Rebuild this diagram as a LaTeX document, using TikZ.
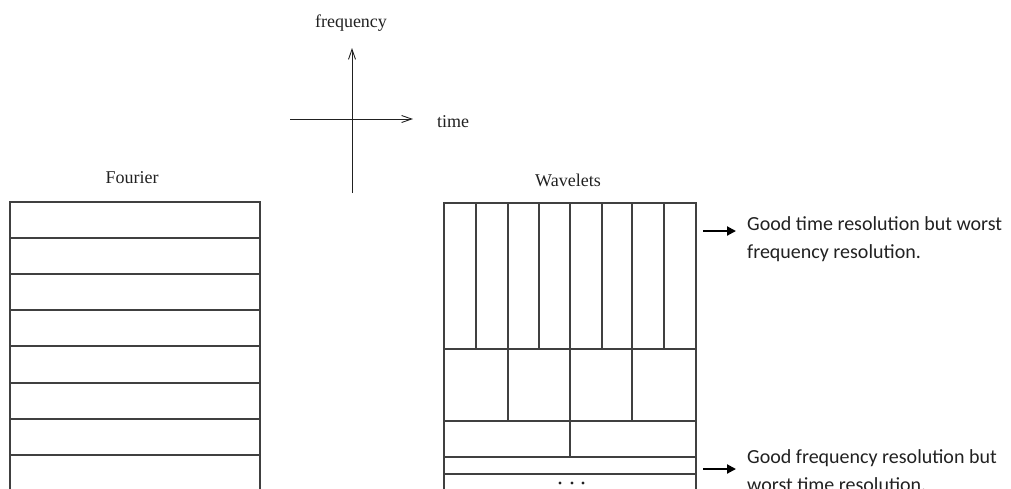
\documentclass[tikz,border=0pt]{standalone}
\usepackage{fontspec}
\setmainfont{Liberation Serif}
\newfontfamily\notefont{Carlito}
\usetikzlibrary{arrows.meta}
\definecolor{gridline}{gray}{0.25}
\definecolor{inkdark}{gray}{0.13}
\tikzset{
  grid/.style={draw=gridline, line width=1.1pt},
  axis/.style={draw=inkdark, line width=0.9pt, -{Straight Barb[length=10pt,width=7pt]}},
  title/.style={font=\fontsize{18}{21}\selectfont, text=inkdark, inner sep=0pt},
  note/.style={font=\notefont\fontsize{20}{28}\selectfont, text=inkdark, align=left, anchor=base west, inner sep=0pt},
  pointer/.style={draw=black, line width=2pt, -{Triangle[length=9pt,width=9pt]}},
}
\begin{document}
\begin{tikzpicture}[x=1pt,y=-1pt]
\useasboundingbox (0,0) rectangle (1011,488);
\begin{scope}
\clip (0,0) rectangle (1011,488);

% time-frequency axes
\coordinate (tleft) at (290,119);
\coordinate (tright) at (413,119);
\coordinate (fbottom) at (352,193);
\coordinate (ftop) at (352,48);
\draw[axis] (tleft) -- (tright);
\draw[axis] (fbottom) -- (ftop);
\node[title] (freqlbl) at (351,23) {frequency};
\node[title, anchor=west] (timelbl) at (437,122) {time};

% Fourier tiling: equal frequency bands over all time
\node[title] (fourierlbl) at (132,178) {Fourier};
\draw[grid] (10,520) -- (10,202) -- (260,202) -- (260,520);
\foreach \y in {238,274,310,346,383,419,455}
  \draw[grid] (10,\y) -- (260,\y);

% Wavelet tiling: dyadic time-frequency cells
\node[title] (waveletlbl) at (568,180) {Wavelets};
\draw[grid] (444,520) -- (444,203) -- (696,203) -- (696,520);
\foreach \x in {476,508,539,570,602,632,664}
  \draw[grid] (\x,203) -- (\x,349);
\draw[grid] (444,349) -- (696,349);
\foreach \x in {508,570,632}
  \draw[grid] (\x,349) -- (\x,421);
\draw[grid] (444,421) -- (696,421);
\draw[grid] (570,421) -- (570,457);
\draw[grid] (444,457) -- (696,457);
\draw[grid] (444,474) -- (696,474);
\foreach \x in {560,572,583}
  \fill[inkdark] (\x,483) circle (1.7pt);

% remarks on the resolution trade-off (base = baseline of the last line)
\node[note] (topnote) at (747,258) {Good time resolution but worst\\frequency resolution.};
\node[note] (botnote) at (747,491) {Good frequency resolution but\\worst time resolution.};
\coordinate (toptail) at (703,231);
\coordinate (bottail) at (703,469);
\draw[pointer] (toptail) -- ([xshift=-11pt]toptail -| topnote.west);
\draw[pointer] (bottail) -- ([xshift=-11pt]bottail -| botnote.west);
\end{scope}
\end{tikzpicture}
\end{document}
